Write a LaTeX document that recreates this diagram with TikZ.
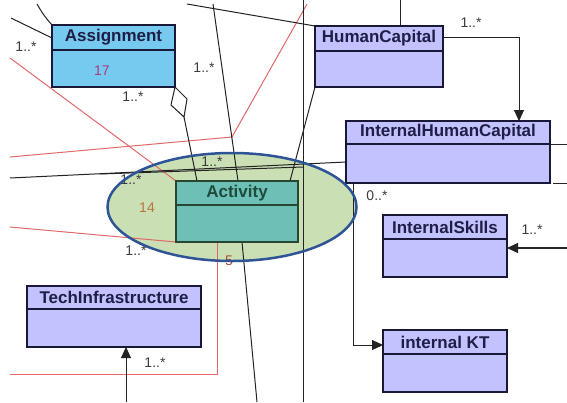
\documentclass[tikz,border=0pt]{standalone}
\usepackage{fontspec}
\setmainfont{Liberation Sans}
\usetikzlibrary{arrows.meta,shapes.geometric,calc}
\definecolor{asgfill}{RGB}{118,202,240}
\definecolor{clsfill}{RGB}{194,194,255}
\definecolor{actfill}{RGB}{108,192,182}
\definecolor{hlfill}{RGB}{202,224,180}
\definecolor{hlborder}{RGB}{46,84,150}
\definecolor{clsborder}{RGB}{25,25,55}
\definecolor{titlecol}{RGB}{30,30,70}
\definecolor{acttext}{RGB}{30,75,60}
\definecolor{actborder}{RGB}{40,70,50}
\definecolor{wirecol}{RGB}{35,35,35}
\definecolor{redwire}{RGB}{225,105,105}
\definecolor{multcol}{RGB}{60,60,60}
\definecolor{num17}{RGB}{170,60,130}
\definecolor{num14}{RGB}{185,115,60}
\definecolor{num5}{RGB}{175,70,50}
\tikzset{
  cls/.style={rectangle, anchor=north west, inner sep=0pt, outer sep=0pt, line width=1.5pt},
  clstitle/.style={font=\fontsize{17}{19}\selectfont\bfseries, inner sep=0pt},
  wire/.style={draw=wirecol, line width=1pt},
  redw/.style={draw=redwire, line width=1pt},
  tip/.style={-{Triangle[length=11pt,width=10pt]}},
  mult/.style={font=\fontsize{14}{15}\selectfont, text=multcol, inner sep=0pt},
  numlab/.style={font=\fontsize{14}{15}\selectfont, inner sep=0pt},
  hl/.style={ellipse, minimum width=249pt, minimum height=108pt, inner sep=0pt}
}
\newcommand{\umlclass}[9]{%
  \node[cls, draw=#7, fill=#6, minimum width=#3pt, minimum height=#4pt] (#1) at (#2) {};
  \draw[draw=#7, line width=1.2pt] ([yshift=-#5pt]#1.north west) -- ([yshift=-#5pt]#1.north east);
  \node[clstitle, text=#8] (#1-title) at ([yshift=-#5pt/2]#1.north) {#9};
}
\begin{document}
\begin{tikzpicture}[x=1pt, y=-1pt]
\useasboundingbox[fill=white] (0,0) rectangle (567,402);

% highlight ellipse (fill)
\node[hl, fill=hlfill] (hlfill) at (232,207) {};

% free ends
\coordinate (p1) at (37,4);
\coordinate (p2) at (11,18);
\coordinate (p3) at (187,4);
\coordinate (p4) at (213,4);
\coordinate (v1t) at (303,0);
\coordinate (v1b) at (303,402);
\coordinate (v2t) at (400,0);
\coordinate (h1) at (10,178);
\coordinate (h2a) at (100,174);
\coordinate (h2b) at (303,167);
\coordinate (b1) at (257,402);
\coordinate (r1) at (10,58);
\coordinate (r2a) at (10,157);
\coordinate (r2b) at (232,137);
\coordinate (r2c) at (307,4);
\coordinate (r3) at (10,227);
\coordinate (r4) at (10,374);
\coordinate (rs) at (567,248);
\coordinate (re1) at (567,144);
\coordinate (re2) at (567,183);
\coordinate (tb) at (126,402);

% class boxes are placed first so anchors exist
\umlclass{asg}{52,25}{123}{62}{25}{asgfill}{clsborder}{titlecol}{Assignment}
\umlclass{hc}{315,26}{128}{61}{25}{clsfill}{clsborder}{titlecol}{HumanCapital}
\umlclass{ihc}{346,121}{204}{62}{23}{clsfill}{clsborder}{titlecol}{InternalHumanCapital}
\umlclass{isk}{383,215}{124}{62}{24}{clsfill}{clsborder}{titlecol}{InternalSkills}
\umlclass{ikt}{383,330}{124}{62}{24}{clsfill}{clsborder}{titlecol}{internal KT}
\umlclass{tech}{27,286}{174}{61}{23}{clsfill}{clsborder}{titlecol}{TechInfrastructure}
\umlclass{act}{176,181}{122}{61}{24}{actfill}{actborder}{acttext}{Activity}

% red connectors
\draw[redw] (r1) -- (act.north west);
\draw[redw] (r2a) -- (r2b) -- (r2c);
\draw[redw] (r3) -- (act.south west);
\draw[redw] ([xshift=41pt]act.south west) |- (r4);

% black connectors
\draw[wire] (p1) to[bend right=6] (asg.north west);
\draw[wire] (p2) -- ([yshift=-13pt]asg.north west);
\draw[wire] (p3) -- (hc.north west);
\draw[wire] (p4) -- ([xshift=62pt]act.north west);
\draw[wire, fill=white] (asg.south east) -- ++(12,12) -- ++(-3,18) coordinate (dm) -- ++(-13,-12) -- cycle;
\draw[wire] (dm) -- ([xshift=21pt]act.north west);
\draw[wire] (hc.south west) -- ([xshift=114pt]act.north west);
\draw[wire] (v1t) -- (v1b);
\draw[wire] (v2t) -- ([xshift=85pt]hc.north west);
\draw[wire] (h1) -- ([yshift=-41pt]ihc.north west);
\draw[wire] (h2a) -- (h2b);
\draw[wire] ([xshift=66pt]act.south west) -- (b1);
\draw[wire] ([yshift=-23pt]ihc.north east) -- (re1);
\draw[wire] ([xshift=3pt]ihc.south east) -- (re2);

% arrows
\draw[wire, tip] ([yshift=-11pt]hc.north east) -| ([xshift=173pt]ihc.north west);
\draw[wire, line width=1.5pt, tip] (rs) -- ([yshift=-33pt]isk.north east);
\draw[wire, tip] ([xshift=7pt]ihc.south west) |- ([yshift=-15pt]ikt.north west);
\draw[wire, tip] (tb) -- ([xshift=99pt]tech.south west);

% redraw class boxes on top of connectors
\umlclass{asg}{52,25}{123}{62}{25}{asgfill}{clsborder}{titlecol}{Assignment}
\umlclass{hc}{315,26}{128}{61}{25}{clsfill}{clsborder}{titlecol}{HumanCapital}
\umlclass{ihc}{346,121}{204}{62}{23}{clsfill}{clsborder}{titlecol}{InternalHumanCapital}
\umlclass{isk}{383,215}{124}{62}{24}{clsfill}{clsborder}{titlecol}{InternalSkills}
\umlclass{ikt}{383,330}{124}{62}{24}{clsfill}{clsborder}{titlecol}{internal KT}
\umlclass{tech}{27,286}{174}{61}{23}{clsfill}{clsborder}{titlecol}{TechInfrastructure}
\umlclass{act}{176,181}{122}{61}{24}{actfill}{actborder}{acttext}{Activity}

% multiplicities
\node[mult] (m1) at (26,47) {1..*};
\node[mult] (m2) at (133,97) {1..*};
\node[mult] (m3) at (204,68) {1..*};
\node[mult] (m4) at (212,162) {1..*};
\node[mult] (m5) at (131,180) {1..*};
\node[mult] (m6) at (136,251) {1..*};
\node[mult] (m7) at (155,363) {1..*};
\node[mult] (m8) at (471,23) {1..*};
\node[mult] (m9) at (532,230) {1..*};
\node[mult] (m10) at (377,196) {0..*};

% numbers
\node[numlab, text=num17] (n17) at (102,71) {17};
\node[numlab, text=num14] (n14) at (147,208) {14};
\node[numlab, text=num5] (n5) at (229,261) {5};

% highlight ellipse border
\node[hl, draw=hlborder, line width=2.5pt] (hlborder) at (hlfill) {};
\end{tikzpicture}
\end{document}
